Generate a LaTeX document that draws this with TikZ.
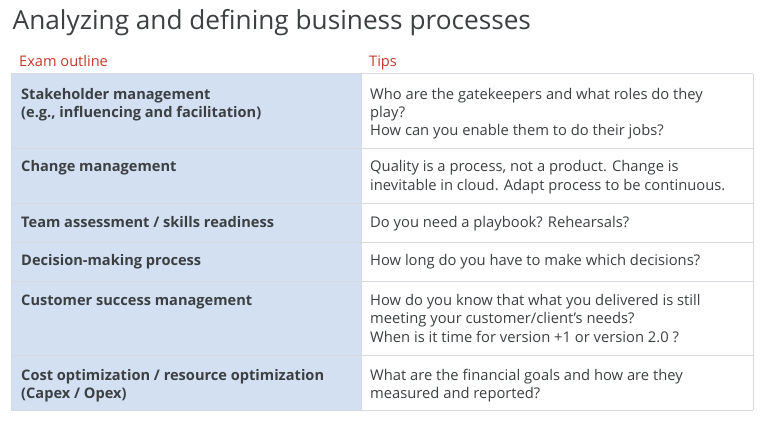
\documentclass[tikz,border=0pt]{standalone}
\usepackage{fontspec}
\setmainfont{Open Sans}
\definecolor{titlegray}{RGB}{60,64,67}
\definecolor{bodygray}{RGB}{60,64,67}
\definecolor{headred}{RGB}{197,57,41}
\definecolor{leftfill}{RGB}{210,224,241}
\definecolor{gridgray}{RGB}{214,217,222}
\newcommand\cellrows[1]{\begin{tabular}[t]{@{}l@{}}#1\end{tabular}}
\tikzset{
  titletext/.style={anchor=base west, inner sep=0pt, text=titlegray, font=\fontsize{26.2}{30}\selectfont},
  headtext/.style={anchor=base west, inner sep=0pt, text=headred, font=\fontsize{14.6}{18}\selectfont},
  lefttext/.style={anchor=base west, inner sep=0pt, text=bodygray, font=\fontsize{14.6}{18.3}\selectfont\bfseries},
  tiptext/.style={anchor=base west, inner sep=0pt, text=bodygray, font=\fontsize{14.75}{18.3}\selectfont},
  gridline/.style={draw=gridgray, line width=1pt},
}
\begin{document}
\begin{tikzpicture}[x=1pt,y=-1pt]
\useasboundingbox (0,0) rectangle (783,425);
\fill[white] (0,0) rectangle (783,425);
\fill[leftfill] (11,74) rectangle (361,410);
\foreach \yy in {74,148,203,242,281,355,410}{\draw[gridline] (11,\yy) -- (753,\yy);}
\foreach \xx in {11,361,753}{\draw[gridline] (\xx,74) -- (\xx,410);}
\node[titletext] (title) at (12.5,29.3) {Analyzing and defining business processes};
\node[headtext] (hexam) at (19,66.7) {Exam outline};
\node[headtext] (htips) at (369,66.7) {Tips};
\node[lefttext] (l1) at (21,99.3) {\cellrows{Stakeholder management\\(e.g., influencing and facilitation)}};
\node[lefttext] (l2) at (21,171.7) {Change management};
\node[lefttext] (l3) at (21,227) {Team assessment / skills readiness};
\node[lefttext] (l4) at (21,265.5) {Decision-making process};
\node[lefttext] (l5) at (21,305.5) {Customer success management};
\node[lefttext] (l6) at (21,380.5) {\cellrows{Cost optimization / resource optimization\\(Capex / Opex)}};
\node[tiptext] (t1) at (370,99.3) {\cellrows{Who are the gatekeepers and what roles do they\\play?\\How can you enable them to do their jobs?}};
\node[tiptext] (t2) at (370,171.7) {\cellrows{Quality is a process, not a product. Change is\\inevitable in cloud. Adapt process to be continuous.}};
\node[tiptext] (t3) at (370,227) {Do you need a playbook? Rehearsals?};
\node[tiptext] (t4) at (370,265.5) {How long do you have to make which decisions?};
\node[tiptext] (t5) at (370,305.5) {\cellrows{How do you know that what you delivered is still\\meeting your customer/client's needs?\\When is it time for version +1 or version 2.0 ?}};
\node[tiptext] (t6) at (370,380.5) {\cellrows{What are the financial goals and how are they\\measured and reported?}};
\end{tikzpicture}
\end{document}
